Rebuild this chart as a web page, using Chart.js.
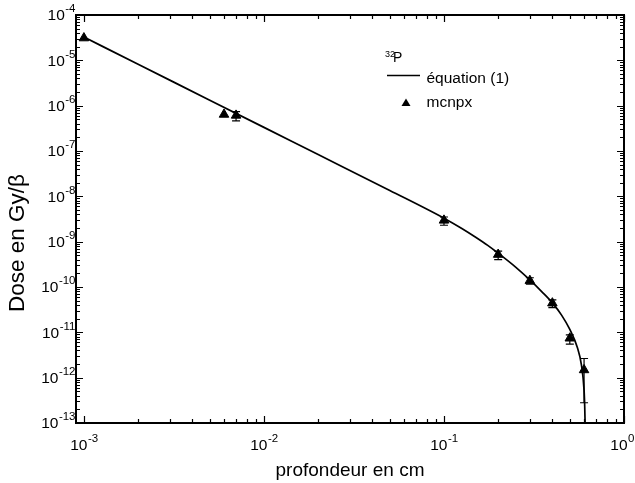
<!DOCTYPE html>
<html>
<head>
<meta charset="utf-8">
<script src="https://cdn.jsdelivr.net/npm/chart.js@4/dist/chart.umd.min.js"></script>
<style>
  html, body { margin: 0; padding: 0; background: #fff; }
  #cadre { width: 635px; height: 483px; position: relative; }
</style>
</head>
<body>
<div id="cadre"><canvas id="graphique"></canvas></div>
<script>
// Courbe analytique (équation 1)
const courbeX = [0.001, 0.002, 0.005, 0.01, 0.02, 0.05, 0.1, 0.125, 0.15, 0.175, 0.2, 0.25, 0.3, 0.35, 0.4, 0.45, 0.5, 0.55, 0.58, 0.6, 0.605, 0.608];
const courbeY = [3.26e-5, 8.2e-6, 1.32e-6, 3.32e-7, 8.37e-8, 1.35e-8, 3.3e-9, 1.98e-9, 1.25e-9, 8.26e-10, 5.56e-10, 2.75e-10, 1.43e-10, 7.82e-11, 4.47e-11, 2.4e-11, 1.16e-11, 4.68e-12, 1.91e-12, 5.3e-13, 2.34e-13, 1e-13];

// Points mcnpx et barres d'erreur
const mcnpxX = [0.001, 0.006, 0.007, 0.1, 0.2, 0.3, 0.4, 0.5, 0.6];
const mcnpxY = [3.1e-5, 6.4e-7, 6.1e-7, 2.95e-9, 5.2e-10, 1.38e-10, 4.4e-11, 7.4e-12, 1.48e-12];
const errBas = [null, null, 4.6e-7, 2.3e-9, 4.0e-10, 1.15e-10, 3.5e-11, 5.5e-12, 2.8e-13];
const errHaut = [null, null, 7.4e-7, 3.5e-9, 6.2e-10, 1.6e-10, 5.2e-11, 8.8e-12, 2.65e-12];

// Etiquettes des graduations (puissances de 10)
const expX = [-3, -2, -1, 0];
const expY = [-13, -12, -11, -10, -9, -8, -7, -6, -5, -4];

const police = '"Liberation Sans", Arial, sans-serif';

function puissance(ctx, x, y, exp, align) {
  ctx.font = "15.5px " + police;
  const w10 = ctx.measureText("10").width;
  ctx.font = "11.5px " + police;
  const wExp = ctx.measureText(String(exp)).width;
  let debut = align === "right" ? x - w10 - wExp : x - (w10 + wExp) / 2;
  debut = Math.min(debut, 634 - w10 - wExp);
  ctx.textAlign = "left";
  ctx.textBaseline = "middle";
  ctx.font = "15.5px " + police;
  ctx.fillText("10", debut, y);
  ctx.font = "11.5px " + police;
  ctx.fillText(String(exp), debut + w10 + 0.5, y - 7);
}

const decor = {
  id: "decor",
  beforeDraw(chart) {
    const ctx = chart.ctx;
    ctx.save();
    ctx.fillStyle = "#fff";
    ctx.fillRect(0, 0, chart.width, chart.height);
    ctx.restore();
  },
  afterDatasetsDraw(chart) {
    const { ctx, scales: { x, y } } = chart;
    ctx.save();
    ctx.strokeStyle = "#000";
    ctx.lineWidth = 1.2;
    mcnpxX.forEach((v, i) => {
      if (errBas[i] === null) return;
      const px = x.getPixelForValue(v);
      const y1 = y.getPixelForValue(errBas[i]);
      const y2 = y.getPixelForValue(errHaut[i]);
      ctx.beginPath();
      ctx.moveTo(px, y1); ctx.lineTo(px, y2);
      ctx.moveTo(px - 4, y1); ctx.lineTo(px + 4, y1);
      ctx.moveTo(px - 4, y2); ctx.lineTo(px + 4, y2);
      ctx.stroke();
    });
    ctx.restore();
  },
  afterDraw(chart) {
    const { ctx, chartArea: a, scales: { x, y } } = chart;
    ctx.save();
    ctx.strokeStyle = "#000";
    ctx.fillStyle = "#000";

    // graduations vers l'intérieur, sur les quatre côtés
    ctx.lineWidth = 1.2;
    ctx.beginPath();
    for (let e = -4; e <= 0; e++) {
      for (let m = 1; m <= 9; m++) {
        const v = m * Math.pow(10, e);
        if (v < x.min || v > x.max) continue;
        const px = Math.round(x.getPixelForValue(v)) + 0.5;
        const l = m === 1 ? 7 : 4;
        ctx.moveTo(px, a.bottom); ctx.lineTo(px, a.bottom - l);
        ctx.moveTo(px, a.top); ctx.lineTo(px, a.top + l);
      }
    }
    for (let e = -13; e <= -4; e++) {
      for (let m = 1; m <= 9; m++) {
        const v = m * Math.pow(10, e);
        if (v < y.min * 0.999 || v > y.max * 1.001) continue;
        const py = Math.round(y.getPixelForValue(v)) + 0.5;
        const l = m === 1 ? 7 : 4;
        ctx.moveTo(a.left, py); ctx.lineTo(a.left + l, py);
        ctx.moveTo(a.right, py); ctx.lineTo(a.right - l, py);
      }
    }
    ctx.stroke();

    // cadre
    ctx.lineWidth = 2;
    ctx.strokeRect(a.left, a.top, a.right - a.left, a.bottom - a.top);

    // étiquettes
    expX.forEach((e) => puissance(ctx, x.getPixelForValue(Math.pow(10, e)), 446, e, "center"));
    expY.forEach((e) => puissance(ctx, 75, y.getPixelForValue(Math.pow(10, e)) + 1, e, "right"));

    // titres des axes
    ctx.textAlign = "center";
    ctx.textBaseline = "alphabetic";
    ctx.font = "19px " + police;
    ctx.fillText("profondeur en cm", (a.left + a.right) / 2, 476);
    ctx.save();
    ctx.translate(24, 312);
    ctx.rotate(-Math.PI / 2);
    ctx.textAlign = "left";
    ctx.font = "22.5px " + police;
    ctx.fillText("Dose en Gy/β", 0, 0);
    ctx.restore();

    // légende
    ctx.textAlign = "left";
    ctx.font = "9px " + police;
    ctx.fillText("32", 385, 57);
    ctx.font = "14px " + police;
    ctx.fillText("P", 393, 62);
    ctx.lineWidth = 1.6;
    ctx.beginPath();
    ctx.moveTo(387, 75.5); ctx.lineTo(420, 75.5);
    ctx.stroke();
    ctx.font = "15.5px " + police;
    ctx.fillText("équation (1)", 426.5, 82.5);
    ctx.fillText("mcnpx", 426.5, 106.5);
    ctx.beginPath();
    ctx.moveTo(406, 98.5); ctx.lineTo(410.5, 106); ctx.lineTo(401.5, 106);
    ctx.closePath();
    ctx.fill();
    ctx.restore();
  }
};

new Chart(document.getElementById("graphique"), {
  type: "scatter",
  data: {
    datasets: [
      {
        label: "équation (1)",
        data: courbeX.map((v, i) => ({ x: v, y: courbeY[i] })),
        showLine: true,
        borderColor: "#000",
        borderWidth: 1.7,
        pointRadius: 0,
        cubicInterpolationMode: "monotone",
      },
      {
        label: "mcnpx",
        data: mcnpxX.map((v, i) => ({ x: v, y: mcnpxY[i] })),
        pointStyle: "triangle",
        pointRadius: 5.5,
        backgroundColor: "#000",
        borderColor: "#000",
        borderWidth: 1,
      },
    ],
  },
  options: {
    responsive: true,
    maintainAspectRatio: false,
    animation: false,
    devicePixelRatio: 1,
    layout: { padding: { left: 76, top: 15, right: 11, bottom: 60 } },
    plugins: { legend: { display: false }, tooltip: { enabled: false } },
    scales: {
      x: { type: "logarithmic", display: false, min: Math.pow(10, -3.044), max: 1 },
      y: { type: "logarithmic", display: false, min: 1e-13, max: 1e-4 },
    },
  },
  plugins: [decor],
});
</script>
</body>
</html>
